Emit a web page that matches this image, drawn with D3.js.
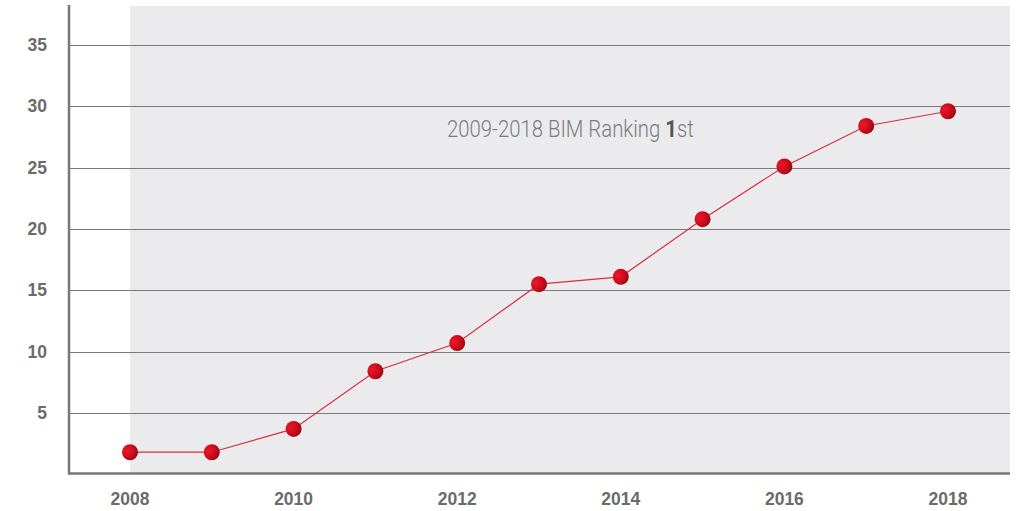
<!DOCTYPE html>
<html><head><meta charset="utf-8">
<script src="https://cdn.jsdelivr.net/npm/d3@7"></script>
<style>body{margin:0;background:#fff}svg{display:block}</style>
</head><body><svg id="c" width="1021" height="511"></svg>
<script>
const years = [2008,2009,2010,2011,2012,2013,2014,2015,2016,2017,2018];
const values = [1.8,1.8,3.7,8.4,10.7,15.5,16.1,20.8,25.1,28.4,29.6];
const yTicks = [5,10,15,20,25,30,35];
const xTicks = [2008,2010,2012,2014,2016,2018];
const title = "2009-2018 BIM Ranking ";

const svg = d3.select("#c");
const x = d3.scaleLinear().domain([2008,2018]).range([130,948]);
const y = d3.scaleLinear().domain([0,35]).range([474.3,45]);
const plotLeft = 69, plotRight = 1010, plotTop = 6;

const defs = svg.append("defs");
const g = defs.append("radialGradient").attr("id","dot").attr("cx","30%").attr("cy","40%").attr("r","75%");
g.append("stop").attr("offset","0%").attr("stop-color","#ec1828");
g.append("stop").attr("offset","55%").attr("stop-color","#cc0c1c");
g.append("stop").attr("offset","100%").attr("stop-color","#8c0a14");

svg.append("rect").attr("x",x(2008)).attr("y",plotTop).attr("width",plotRight-x(2008)).attr("height",y(0)-plotTop).attr("fill","#ebebee");

svg.append("g").selectAll("line").data(yTicks).join("line")
  .attr("x1",plotLeft).attr("x2",plotRight).attr("y1",d=>Math.round(y(d))+0.5).attr("y2",d=>Math.round(y(d))+0.5)
  .attr("stroke","#7a7a7a").attr("stroke-width",1);

svg.append("g").selectAll("text").data(yTicks).join("text")
  .attr("x",47).attr("y",d=>y(d)+6).attr("text-anchor","end")
  .attr("font-family","Liberation Sans, Arial, sans-serif").attr("font-weight","bold").attr("font-size",17.5)
  .attr("fill","#6b6b6b").text(d=>d);

svg.append("g").selectAll("text").data(xTicks).join("text")
  .attr("x",d=>x(d)).attr("y",505).attr("text-anchor","middle")
  .attr("font-family","Liberation Sans, Arial, sans-serif").attr("font-weight","bold").attr("font-size",17.5)
  .attr("fill","#6b6b6b").text(d=>d);

svg.append("line").attr("x1",plotLeft).attr("x2",plotLeft).attr("y1",plotTop-1).attr("y2",y(0)).attr("stroke","#777").attr("stroke-width",2.5);
svg.append("line").attr("x1",plotLeft-1).attr("x2",plotRight).attr("y1",y(0)-0.8).attr("y2",y(0)-0.8).attr("stroke","#777").attr("stroke-width",2.5);

const tg = svg.append("g");
const t = tg.append("text").attr("x",0).attr("y",0)
  .attr("font-family","Roboto, Liberation Sans, sans-serif").attr("font-weight",300).attr("font-size",23).attr("fill","#7c7c7c");
t.append("tspan").text(title);
t.append("tspan").attr("font-weight","bold").attr("fill","#555").text("1");
t.append("tspan").text("st");
const w = t.node().getComputedTextLength() || 280;
tg.attr("transform",`translate(447,137) scale(${247/w},1)`);

const data = years.map((yr,i)=>({yr,v:values[i]}));
svg.append("path").datum(data)
  .attr("d",d3.line().x(d=>x(d.yr)).y(d=>y(d.v)))
  .attr("fill","none").attr("stroke","#d8303c").attr("stroke-width",1.2);

svg.append("g").selectAll("circle").data(data).join("circle")
  .attr("cx",d=>x(d.yr)).attr("cy",d=>y(d.v)).attr("r",8).attr("fill","url(#dot)");
</script></body></html>
